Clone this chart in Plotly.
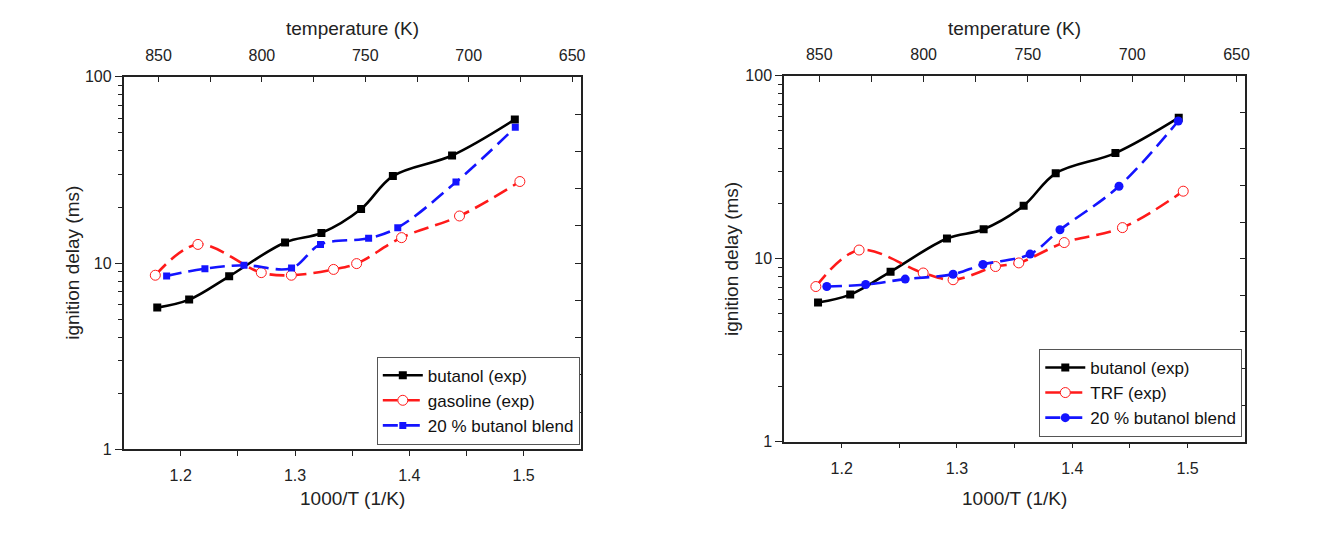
import plotly.graph_objects as go

# ---------------- data ----------------
butanol_x = [1.1795, 1.2074, 1.2424, 1.2913, 1.3231, 1.3578, 1.3856, 1.4374, 1.4923]
butanol_y = [5.77, 6.37, 8.5, 12.9, 14.5, 19.5, 29.3, 37.8, 59.0]

gasoline_x = [1.1778, 1.2151, 1.2705, 1.2968, 1.3337, 1.3539, 1.3932, 1.4439, 1.4967]
gasoline_y = [8.61, 12.6, 8.89, 8.61, 9.25, 9.94, 13.7, 17.9, 27.4]

blend_left_x = [1.1877, 1.2212, 1.2554, 1.2970, 1.3223, 1.3644, 1.3899, 1.4408, 1.4927]
blend_left_y = [8.54, 9.33, 9.74, 9.40, 12.6, 13.6, 15.5, 27.2, 53.5]

trf_x = [1.1776, 1.2151, 1.2707, 1.2966, 1.3334, 1.3536, 1.3930, 1.4435, 1.4962]
trf_y = [7.05, 11.16, 8.36, 7.68, 9.07, 9.49, 12.26, 14.8, 23.4]

blend_right_x = [1.1871, 1.2208, 1.2551, 1.2966, 1.3225, 1.3634, 1.3893, 1.4405, 1.4919]
blend_right_y = [7.05, 7.23, 7.74, 8.23, 9.30, 10.6, 14.4, 24.9, 56.6]

x_ticks = [1.2, 1.25, 1.3, 1.35, 1.4, 1.45, 1.5]
x_ticktext = ["1.2", "", "1.3", "", "1.4", "", "1.5"]
t_ticks = [850, 825, 800, 775, 750, 725, 700, 675, 650]
t_ticktext = ["850", "", "800", "", "750", "", "700", "", "650"]
y_ticks = [1, 10, 100]
y_ticktext = ["1", "10", "100"]
y_minor = [2, 3, 4, 5, 6, 7, 8, 9, 20, 30, 40, 50, 60, 70, 80, 90]
y_right_ticks = [10 ** (k / 5) for k in range(11)]

labels_left = ["butanol (exp)", "gasoline (exp)", "20 % butanol blend"]
labels_right = ["butanol (exp)", "TRF (exp)", "20 % butanol blend"]

FONT = "Liberation Sans, Arial, sans-serif"
W, H = 1322, 534

# pixel geometry of the two plot frames
L = dict(x0=124, x1=583, y0=71, y1=456)
R = dict(x0=787, x1=1250, y0=70, y1=448)

def dom_x(p):
    return [p["x0"] / W, p["x1"] / W]

def dom_y(p):
    return [1 - p["y1"] / H, 1 - p["y0"] / H]

RED = "#ff1a1a"
BLUE = "#1414ff"
DASH = "15px,7px"

fig = go.Figure()

def add_panel(xa, ya, names, red_x, red_y, blue_x, blue_y, blue_symbol, blue_size, legend):
    fig.add_trace(go.Scatter(
        x=butanol_x, y=butanol_y, name=names[0], legend=legend,
        mode="lines+markers", xaxis=xa, yaxis=ya,
        line=dict(color="black", width=2.6, shape="spline", smoothing=1.0),
        marker=dict(symbol="square", size=8, color="black")))
    fig.add_trace(go.Scatter(
        x=red_x, y=red_y, name=names[1], legend=legend,
        mode="lines+markers", xaxis=xa, yaxis=ya,
        line=dict(color=RED, width=2.6, shape="spline", smoothing=1.0, dash=DASH),
        marker=dict(symbol="circle", size=10, color="white", line=dict(color=RED, width=1))))
    fig.add_trace(go.Scatter(
        x=blue_x, y=blue_y, name=names[2], legend=legend,
        mode="lines+markers", xaxis=xa, yaxis=ya,
        line=dict(color=BLUE, width=2.6, shape="spline", smoothing=1.0, dash=DASH),
        marker=dict(symbol=blue_symbol, size=blue_size, color=BLUE)))

add_panel("x", "y", labels_left, gasoline_x, gasoline_y, blend_left_x, blend_left_y, "square", 7, "legend")
add_panel("x3", "y4", labels_right, trf_x, trf_y, blend_right_x, blend_right_y, "circle", 9, "legend2")

# invisible helpers so the secondary (top / right) axes are drawn
for xa, ya in [("x2", "y"), ("x", "y3"), ("x4", "y4"), ("x3", "y5")]:
    fig.add_trace(go.Scatter(x=[None], y=[None], xaxis=xa, yaxis=ya,
                             showlegend=False, hoverinfo="skip"))

tickfont = dict(family=FONT, size=16, color="#222")
axis_line = dict(showline=True, linecolor="#222", linewidth=1.5, showgrid=False,
                 zeroline=False, tickcolor="#222", tickwidth=1.2, tickfont=tickfont)

def bottom_axis(p, anchor):
    return dict(domain=dom_x(p), anchor=anchor, range=[1.15, 1.55],
                tickmode="array", tickvals=x_ticks, ticktext=x_ticktext,
                ticks="outside", ticklen=5, ticklabelstandoff=6, **axis_line)

def top_axis(p, overlay, anchor):
    return dict(overlaying=overlay, anchor=anchor, side="top", range=[866.9, 645.8],
                tickmode="array", tickvals=t_ticks, ticktext=t_ticktext,
                ticks="inside", ticklen=6, ticklabelstandoff=8, **axis_line)

def left_axis(p, anchor):
    return dict(domain=dom_y(p), anchor=anchor, type="log", range=[0, 2],
                tickmode="array", tickvals=y_ticks, ticktext=y_ticktext,
                ticks="outside", ticklen=7,
                minor=dict(tickmode="array", tickvals=y_minor, ticks="outside",
                           ticklen=4, tickwidth=1.2, tickcolor="#222", showgrid=False),
                **axis_line)

def right_axis(p, overlay, anchor):
    return dict(overlaying=overlay, anchor=anchor, side="right", type="log", range=[0, 2],
                tickmode="array", tickvals=y_right_ticks, showticklabels=False,
                ticks="inside", ticklen=6, **axis_line)

legend_common = dict(xanchor="right", yanchor="bottom",
                     bgcolor="white", bordercolor="#555", borderwidth=1,
                     font=dict(family=FONT, size=17, color="#111"),
                     tracegroupgap=0, itemwidth=40)

fig.update_layout(
    width=W, height=H, autosize=False,
    margin=dict(l=0, r=0, t=0, b=0),
    paper_bgcolor="white", plot_bgcolor="white",
    font=dict(family=FONT, size=16, color="#222"),
    xaxis=bottom_axis(L, "y"),
    xaxis2=top_axis(L, "x", "y"),
    yaxis=left_axis(L, "x"),
    yaxis3=right_axis(L, "y", "x"),
    xaxis3=bottom_axis(R, "y4"),
    xaxis4=top_axis(R, "x3", "y4"),
    yaxis4=left_axis(R, "x3"),
    yaxis5=right_axis(R, "y4", "x3"),
    legend=dict(x=582 / W, y=1 - 451 / H, **legend_common),
    legend2=dict(x=1247 / W, y=1 - 443 / H, **legend_common),
    showlegend=True,
)

title_font = dict(family=FONT, size=19, color="#222")

def panel_titles(p):
    cx = (p["x0"] + p["x1"]) / 2 / W
    cy = 1 - (p["y0"] + p["y1"]) / 2 / H
    fig.add_annotation(text="1000/T (1/K)", x=cx, y=1 - 507 / H, xref="paper", yref="paper",
                       showarrow=False, font=title_font, xanchor="center", yanchor="middle")
    fig.add_annotation(text="temperature (K)", x=cx, y=1 - 21 / H, xref="paper", yref="paper",
                       showarrow=False, font=title_font, xanchor="center", yanchor="middle")
    fig.add_annotation(text="ignition delay (ms)", x=(p["x0"] - 52) / W, y=cy,
                       xref="paper", yref="paper", textangle=-90,
                       showarrow=False, font=title_font, xanchor="center", yanchor="middle")

panel_titles(L)
panel_titles(R)

fig.write_html("out.html")
